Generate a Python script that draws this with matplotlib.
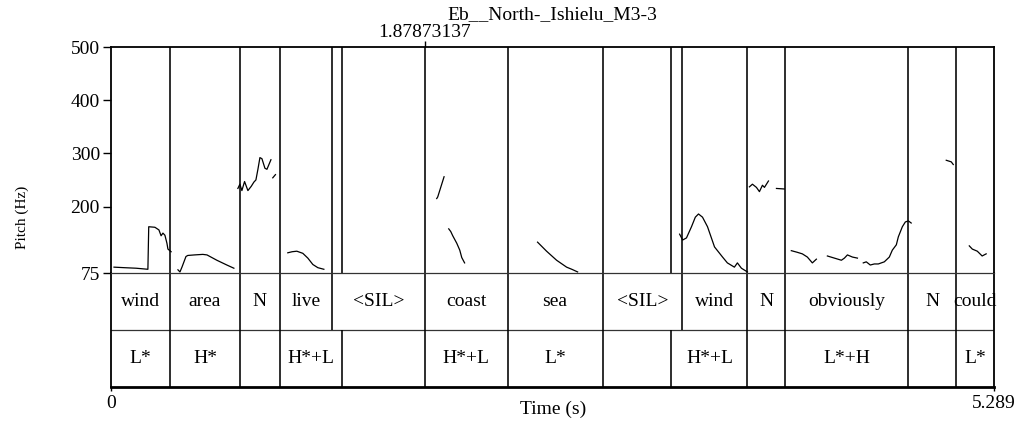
import numpy as np
import matplotlib
matplotlib.use("Agg")
import matplotlib.pyplot as plt

## Praat style picture: pitch contour above two TextGrid tiers

plt.rcParams['font.family'] = ['Liberation Serif', 'DejaVu Serif']

############### Data ######################################################################################
t_end = 5.289
cursor = 1.87873137
title = "Eb__North-_Ishielu_M3-3"

# word tier (interval boundaries [s] and labels)
word_bounds = [0, 0.353, 0.772, 1.011, 1.323, 1.8787, 2.376, 2.944, 3.423, 3.812, 4.039, 4.773, 5.063, 5.289]
word_labels = ["wind", "area", "N", "live", "<SIL>", "coast", "sea", "<SIL>", "wind", "N",
               "obviously", "N", "could"]

# tone tier
tone_bounds = [0, 0.353, 0.772, 1.011, 1.382, 1.8787, 2.376, 2.944, 3.357, 3.812, 4.039, 4.773, 5.063, 5.289]
tone_labels = ["L*", "H*", "", "H*+L", "", "H*+L", "L*", "", "H*+L", "", "L*+H", "", "L*"]

# pitch contour, one list per voiced stretch (time [s], F0 [Hz])
pitch_times = [
    [0.018, 0.08, 0.15, 0.221, 0.226, 0.263, 0.287, 0.300, 0.311, 0.323, 0.335, 0.341, 0.360],
    [0.401, 0.413, 0.425, 0.437, 0.449, 0.46, 0.50, 0.55, 0.575, 0.634, 0.694, 0.736],
    [0.760, 0.772, 0.784, 0.800, 0.820, 0.840, 0.856, 0.868, 0.880, 0.892, 0.904, 0.922, 0.934, 0.958],
    [0.969, 0.985],
    [1.059, 1.085, 1.113, 1.149, 1.179, 1.209, 1.239, 1.275],
    [1.951, 1.957, 1.995],
    [2.023, 2.035, 2.047, 2.071, 2.089, 2.101, 2.118],
    [2.555, 2.609, 2.669, 2.729, 2.760, 2.795],
    [3.406, 3.424, 3.447, 3.477, 3.500, 3.519, 3.543, 3.573, 3.615, 3.663, 3.692, 3.734, 3.752, 3.776, 3.812],
    [3.824, 3.842, 3.866, 3.884, 3.902, 3.914, 3.938],
    [3.986, 4.033],
    [4.075, 4.110, 4.141, 4.171, 4.201, 4.225],
    [4.291, 4.333, 4.375, 4.393, 4.411, 4.441, 4.471],
    [4.506, 4.524, 4.548, 4.572, 4.596, 4.632, 4.662, 4.680, 4.704, 4.716, 4.740, 4.758, 4.776, 4.793],
    [5.003, 5.033, 5.045],
    [5.141, 5.159, 5.189, 5.218, 5.242],
]
pitch_hz = [
    [86, 85, 84, 82, 162, 161, 156, 145, 150, 146, 131, 120, 115],
    [81, 77, 86, 96, 106, 108, 109, 110, 109, 99, 90, 84],
    [234, 242, 230, 247, 230, 238, 246, 250, 270, 292, 290, 272, 270, 288],
    [254, 260],
    [113, 115, 116, 112, 103, 91, 85, 82],
    [215, 218, 256],
    [158, 153, 145, 131, 118, 104, 94],
    [133, 116, 99, 86, 82, 77],
    [148, 137, 141, 162, 180, 186, 180, 162, 124, 105, 94, 86, 94, 84, 77],
    [237, 242, 236, 228, 240, 236, 248],
    [234, 233],
    [117, 114, 111, 105, 94, 101],
    [107, 103, 99, 103, 109, 105, 103],
    [94, 96, 90, 92, 92, 96, 105, 118, 128, 143, 162, 171, 173, 169],
    [287, 284, 279],
    [126, 120, 116, 107, 111],
]
f_min, f_max = 75, 500
f_ticks = [75, 200, 300, 400, 500]
###########################################################################################################

W, H = 1026, 429
fig = plt.figure(figsize=(W / 100, H / 100), dpi=100)

left, right = 111 / W, 994 / W
y_top, y_mid, y_bot = 1 - 47 / H, 1 - 273 / H, 1 - 387 / H

ax_p = fig.add_axes([left, y_mid, right - left, y_top - y_mid])
ax_t = fig.add_axes([left, y_bot, right - left, y_mid - y_bot])
ax_t.patch.set_visible(False)

lw_b = 1.15   # boundary line width
fs = 14       # label font size

# pitch panel
for tt, ff in zip(pitch_times, pitch_hz):
    ax_p.plot(tt, ff, color='black', linewidth=0.9)

all_bounds = sorted(set(word_bounds[1:-1]) | set(tone_bounds[1:-1]))
ax_p.vlines(all_bounds, f_min, f_max, color='black', linewidth=lw_b)

ax_p.set_xlim(0, t_end)
ax_p.set_ylim(f_min, f_max)
ax_p.set_yticks(f_ticks)
ax_p.set_yticklabels([str(v) for v in f_ticks], fontsize=fs)
ax_p.tick_params(axis='y', direction='out', length=6, width=1, pad=2)
ax_p.set_xticks([cursor])
ax_p.set_xticklabels(["1.87873137"], fontsize=fs)
ax_p.tick_params(axis='x', bottom=False, labelbottom=False, top=True, labeltop=True,
                 direction='out', length=4, width=1, pad=0)
for side in ['top', 'left', 'right']:
    ax_p.spines[side].set_linewidth(1.3)
ax_p.spines['bottom'].set_visible(False)

# tier panel
ax_t.set_xlim(0, t_end)
ax_t.set_ylim(0, 2)
ax_t.axhline(1, color='#333333', linewidth=0.9)
ax_t.vlines(word_bounds[1:-1], 1, 2, color='black', linewidth=lw_b)
ax_t.vlines(tone_bounds[1:-1], 0, 1, color='black', linewidth=lw_b)

for a, b, lab in zip(word_bounds[:-1], word_bounds[1:], word_labels):
    ax_t.text((a + b) / 2, 1.5, lab, ha='center', va='center', fontsize=fs)
for a, b, lab in zip(tone_bounds[:-1], tone_bounds[1:], tone_labels):
    if lab:
        ax_t.text((a + b) / 2, 0.5, lab, ha='center', va='center', fontsize=fs)

ax_t.set_yticks([])
ax_t.set_xticks([0, t_end])
ax_t.set_xticklabels(["0", "5.289"], fontsize=fs)
ax_t.tick_params(axis='x', direction='out', length=3, width=1, pad=3)
ax_t.spines['top'].set_linewidth(0.9)
ax_t.spines['top'].set_color('#333333')
for side in ['left', 'right']:
    ax_t.spines[side].set_linewidth(1.3)
ax_t.spines['bottom'].set_linewidth(2.0)

fig.text((left + right) / 2, 1 - 15 / H, title, ha='center', va='center', fontsize=fs)
fig.text(553 / W, 1 - 409 / H, "Time (s)", ha='center', va='center', fontsize=fs)
fig.text(22 / W, 1 - 217 / H, "Pitch (Hz)", ha='center', va='center', rotation=90, fontsize=11)

fig.savefig("out.png", dpi=100)
